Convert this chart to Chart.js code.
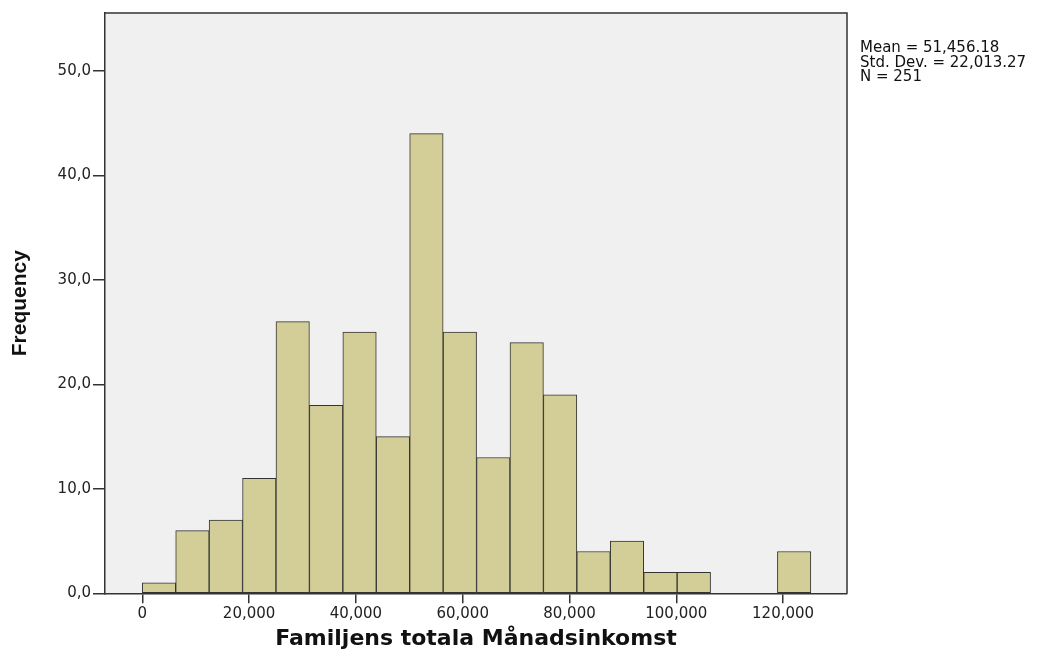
<!DOCTYPE html>
<html>
<head>
<meta charset="utf-8">
<title>Familjens totala Månadsinkomst</title>
<script src="https://cdn.jsdelivr.net/npm/chart.js@4.4.1/dist/chart.umd.min.js"></script>
<style>
  html, body { margin: 0; padding: 0; background: #fff; }
  #wrap { width: 1055px; height: 656px; position: relative; }
</style>
</head>
<body>
<div id="wrap"><canvas id="js-histogram"></canvas></div>
<script>
// bin edges (income, kr) and frequency per bin
const binEdges = [
  0, 6260, 12520, 18780, 25040, 31300, 37560, 43820, 50080, 56340, 62600,
  68860, 75120, 81380, 87640, 93900, 100160, 106420, 112680, 118940, 125200,
];
const frequencies = [1, 6, 7, 11, 26, 18, 25, 15, 44, 25, 13, 24, 19, 4, 5, 2, 2, 0, 0, 4];

const xTickValues = [0, 20000, 40000, 60000, 80000, 100000, 120000];
const xTickLabels = ['0', '20,000', '40,000', '60,000', '80,000', '100,000', '120,000'];
const yTickValues = [0, 10, 20, 30, 40, 50];
const yTickLabels = ['0,0', '10,0', '20,0', '30,0', '40,0', '50,0'];

const statsLines = ['Mean = 51,456.18', 'Std. Dev. = 22,013.27', 'N = 251'];

const AXIS_COLOR = '#333333';
const BAR_FILL = '#d3ce97';

// grey plot background plus top/right frame, like SPSS draws it
const plotFrame = {
  id: 'plotFrame',
  beforeDraw(chart) {
    const { ctx, chartArea: a } = chart;
    ctx.save();
    ctx.fillStyle = '#f0f0f0';
    ctx.fillRect(a.left, a.top, a.right - a.left, a.bottom - a.top);
    ctx.restore();
  },
  afterDraw(chart) {
    const { ctx, chartArea: a } = chart;
    ctx.save();
    ctx.strokeStyle = AXIS_COLOR;
    ctx.lineWidth = 1.5;
    ctx.beginPath();
    ctx.moveTo(a.left, a.top);
    ctx.lineTo(a.right, a.top);
    ctx.lineTo(a.right, a.bottom);
    ctx.stroke();
    ctx.restore();
  },
};

const statsBox = {
  id: 'statsBox',
  afterDraw(chart) {
    const { ctx, chartArea: a } = chart;
    ctx.save();
    ctx.font = '15px "DejaVu Sans", sans-serif';
    ctx.fillStyle = '#111';
    ctx.textBaseline = 'alphabetic';
    statsLines.forEach((line, i) => {
      ctx.fillText(line, a.right + 13, 52 + i * 14.7);
    });
    ctx.restore();
  },
};

const chartInit = (element) => {
  const points = frequencies.map((freq, i) => ({
    x: (binEdges[i] + binEdges[i + 1]) / 2,
    y: freq,
  }));

  return new Chart(element, {
    type: 'bar',
    data: {
      datasets: [{
        data: points,
        backgroundColor: BAR_FILL,
        borderColor: AXIS_COLOR,
        borderWidth: 1,
        borderSkipped: false,
        barPercentage: 1,
        categoryPercentage: 1,
      }],
    },
    options: {
      responsive: false,
      animation: false,
      layout: { padding: { top: 13, right: 208, left: 0, bottom: 0 } },
      plugins: {
        legend: { display: false },
        tooltip: { enabled: false },
      },
      scales: {
        x: {
          type: 'linear',
          offset: false,
          min: -6980,
          max: 131970,
          afterBuildTicks: (scale) => {
            scale.ticks = xTickValues.map((v) => ({ value: v }));
          },
          afterFit: (scale) => { scale.height = 62.7; },
          ticks: {
            callback: (value, index) => xTickLabels[index],
            font: { family: '"DejaVu Sans", sans-serif', size: 15 },
            color: '#222',
            padding: 2,
            maxRotation: 0,
          },
          grid: {
            offset: false,
            drawOnChartArea: false,
            drawTicks: true,
            tickLength: 10,
            color: AXIS_COLOR,
            lineWidth: 1.5,
          },
          border: { display: true, color: AXIS_COLOR, width: 1.5 },
          title: {
            display: true,
            text: 'Familjens totala Månadsinkomst',
            font: { family: '"DejaVu Sans", sans-serif', size: 22, weight: 'bold' },
            color: '#111',
            padding: { top: 0, bottom: 4 },
          },
        },
        y: {
          min: 0,
          max: 55.55,
          afterBuildTicks: (scale) => {
            scale.ticks = yTickValues.map((v) => ({ value: v }));
          },
          afterFit: (scale) => { scale.width = 105; },
          ticks: {
            callback: (value, index) => yTickLabels[index],
            font: { family: '"DejaVu Sans", sans-serif', size: 15 },
            color: '#222',
            padding: 2,
          },
          grid: {
            drawOnChartArea: false,
            drawTicks: true,
            tickLength: 12,
            color: AXIS_COLOR,
            lineWidth: 1.5,
          },
          border: { display: true, color: AXIS_COLOR, width: 1.5 },
          title: {
            display: true,
            text: 'Frequency',
            font: { family: '"Liberation Sans Narrow", "Liberation Sans", sans-serif', size: 21, weight: 'bold' },
            color: '#111',
            padding: { top: 8, bottom: 0 },
          },
        },
      },
    },
    plugins: [plotFrame, statsBox],
  });
};

document.addEventListener('DOMContentLoaded', () => {
  const element = document.getElementById('js-histogram');
  element.width = 1055;
  element.height = 656;
  if (element) {
    chartInit(element);
  }
});
</script>
</body>
</html>
